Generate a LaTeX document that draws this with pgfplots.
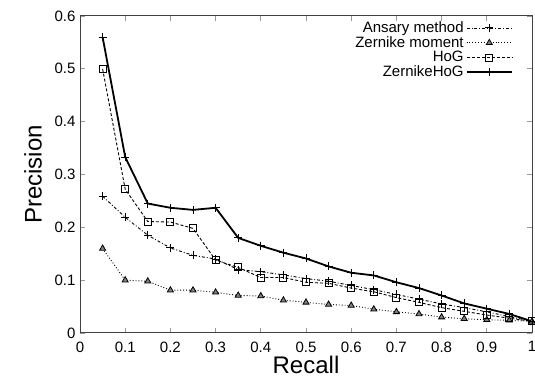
\documentclass[border=0pt]{standalone}
\usepackage{fontspec}
\setmainfont{Liberation Sans}
\usepackage{pgfplots}
\pgfplotsset{compat=1.18}
\begin{document}
\begin{tikzpicture}
\begin{axis}[
  scale only axis, width=452pt, height=317pt,
  xmin=0, xmax=1, ymin=0, ymax=0.6,
  xtick={0,0.1,...,1.0}, ytick={0,0.1,...,0.6},
  xticklabels={0,0.1,0.2,0.3,0.4,0.5,0.6,0.7,0.8,0.9,1},
  yticklabels={0,0.1,0.2,0.3,0.4,0.5,0.6},
  /pgf/number format/assume math mode=true,
  tick align=inside, tick pos=both,
  major tick length=5pt,
  tick style={gray!80, line width=0.8pt},
  axis line style={black!75, line width=1pt},
  tick label style={font=\fontsize{15}{17}\selectfont},
  xticklabel style={yshift=-5pt},
  yticklabel style={xshift=-1pt},
  xlabel={Recall}, ylabel={Precision},
  label style={font=\fontsize{24}{27}\selectfont},
  xlabel style={yshift=1pt, inner sep=1pt},
  ylabel style={yshift=6pt},
  legend style={draw=none, fill=none, at={(0.965,0.995)}, anchor=north east,
    font=\fontsize{15}{16}\selectfont, row sep=-1.5pt},
  legend cell align=right, legend plot pos=right,
  legend image code/.code={\draw[mark repeat=2,mark phase=2] plot coordinates {(0cm,0cm)(0.8cm,0cm)(1.6cm,0cm)};},
  every axis plot/.append style={line width=0.9pt},
  clip=false,
]
\addplot[black, dash dot, mark=+, mark size=4pt, mark options={solid, line width=1pt}] coordinates {
(0.05,0.259)(0.1,0.219)(0.15,0.185)(0.2,0.161)(0.25,0.147)(0.3,0.140)(0.35,0.120)(0.4,0.116)(0.45,0.110)(0.5,0.103)
(0.55,0.098)(0.6,0.090)(0.65,0.082)(0.7,0.073)(0.75,0.064)(0.8,0.055)(0.85,0.048)(0.9,0.040)(0.95,0.031)(1.0,0.022)};
\addlegendentry{Ansary method}
\addplot[black, dotted, mark=triangle*, mark size=3.5pt, mark options={solid, fill=gray, draw=black, line width=0.8pt}] coordinates {
(0.05,0.160)(0.1,0.100)(0.15,0.098)(0.2,0.081)(0.25,0.081)(0.3,0.077)(0.35,0.071)(0.4,0.070)(0.45,0.062)(0.5,0.058)
(0.55,0.054)(0.6,0.052)(0.65,0.045)(0.7,0.040)(0.75,0.036)(0.8,0.030)(0.85,0.027)(0.9,0.025)(0.95,0.024)(1.0,0.022)};
\addlegendentry{Zernike moment}
\addplot[black, densely dashed, mark=square, mark size=3.5pt, mark options={solid, line width=1pt}] coordinates {
(0.05,0.500)(0.1,0.272)(0.15,0.211)(0.2,0.210)(0.25,0.198)(0.3,0.138)(0.35,0.124)(0.4,0.105)(0.45,0.105)(0.5,0.096)
(0.55,0.094)(0.6,0.085)(0.65,0.078)(0.7,0.067)(0.75,0.058)(0.8,0.048)(0.85,0.041)(0.9,0.034)(0.95,0.028)(1.0,0.022)};
\addlegendentry{HoG}
\addplot[black, line width=1.8pt, mark=+, mark size=4pt, mark options={solid, line width=1pt}] coordinates {
(0.05,0.560)(0.1,0.333)(0.15,0.245)(0.2,0.237)(0.25,0.233)(0.3,0.237)(0.35,0.180)(0.4,0.165)(0.45,0.152)(0.5,0.141)
(0.55,0.126)(0.6,0.114)(0.65,0.109)(0.7,0.096)(0.75,0.085)(0.8,0.071)(0.85,0.056)(0.9,0.046)(0.95,0.036)(1.0,0.022)};
\addlegendentry{ZernikeHoG}
\coordinate (ll) at (rel axis cs:0,0);
\coordinate (ur) at (rel axis cs:1,1);
\end{axis}
\pgfresetboundingbox
\path ([shift={(-80pt,-48pt)}]ll) rectangle ([shift={(3pt,16pt)}]ur);
\end{tikzpicture}
\end{document}
